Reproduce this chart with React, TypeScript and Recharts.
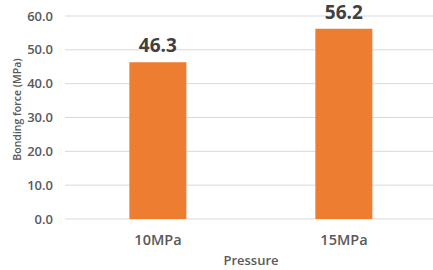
import * as React from "react";
import { BarChart, Bar, XAxis, YAxis, CartesianGrid, LabelList, Label } from "recharts";

const pressures = ["10MPa", "15MPa"];
const bondingForce = [46.3, 56.2];
const yTicks = [0, 10, 20, 30, 40, 50, 60];

const data = pressures.map((p, i) => ({ pressure: p, force: bondingForce[i] }));

const font = "'Open Sans', 'Liberation Sans', sans-serif";

const YTitle = ({ viewBox }: any) => {
    const x = viewBox.x + 17;
    const y = viewBox.y + viewBox.height / 2 - 8;
    return (
        <text
            x={x}
            y={y}
            transform={`rotate(-90, ${x}, ${y})`}
            textAnchor="middle"
            dominantBaseline="central"
            style={{ fontSize: 10.5, fontWeight: 600, fill: "#595959", fontFamily: font }}
        >
            Bonding force (MPa)
        </text>
    );
};

export default function App() {
    return (
        <div style={{ position: "absolute", left: 0, top: 0, width: 433, height: 270, overflow: "hidden", background: "#fff" }}>
            <BarChart
                width={437}
                height={270}
                data={data}
                margin={{ top: 16, right: 0, bottom: 0, left: 0 }}
                barCategoryGap="34.6%"
            >
                <CartesianGrid vertical={false} stroke="#d9d9d9" strokeWidth={1} />
                <XAxis
                    dataKey="pressure"
                    axisLine={false}
                    tickLine={false}
                    tickSize={0}
                    tickMargin={16}
                    height={51}
                    tick={{ fontSize: 14.5, fontWeight: 600, fill: "#595959", fontFamily: font }}
                >
                    <Label
                        value="Pressure"
                        position="insideBottom"
                        offset={5}
                        style={{ fontSize: 13, fontWeight: 600, fill: "#595959", fontFamily: font }}
                    />
                </XAxis>
                <YAxis
                    domain={[0, 60]}
                    ticks={yTicks}
                    interval={0}
                    axisLine={false}
                    tickLine={false}
                    tickSize={0}
                    tickMargin={12}
                    width={65}
                    tickFormatter={(v: number) => v.toFixed(1)}
                    tick={{ fontSize: 13, fontWeight: 600, fill: "#595959", fontFamily: font }}
                >
                    <Label content={YTitle} />
                </YAxis>
                <Bar dataKey="force" fill="#ed7d31" isAnimationActive={false}>
                    <LabelList
                        dataKey="force"
                        position="top"
                        offset={10}
                        formatter={(v: number) => v.toFixed(1)}
                        style={{ fontSize: 19, fontWeight: 700, fill: "#404040", fontFamily: font }}
                    />
                </Bar>
            </BarChart>
        </div>
    );
}
